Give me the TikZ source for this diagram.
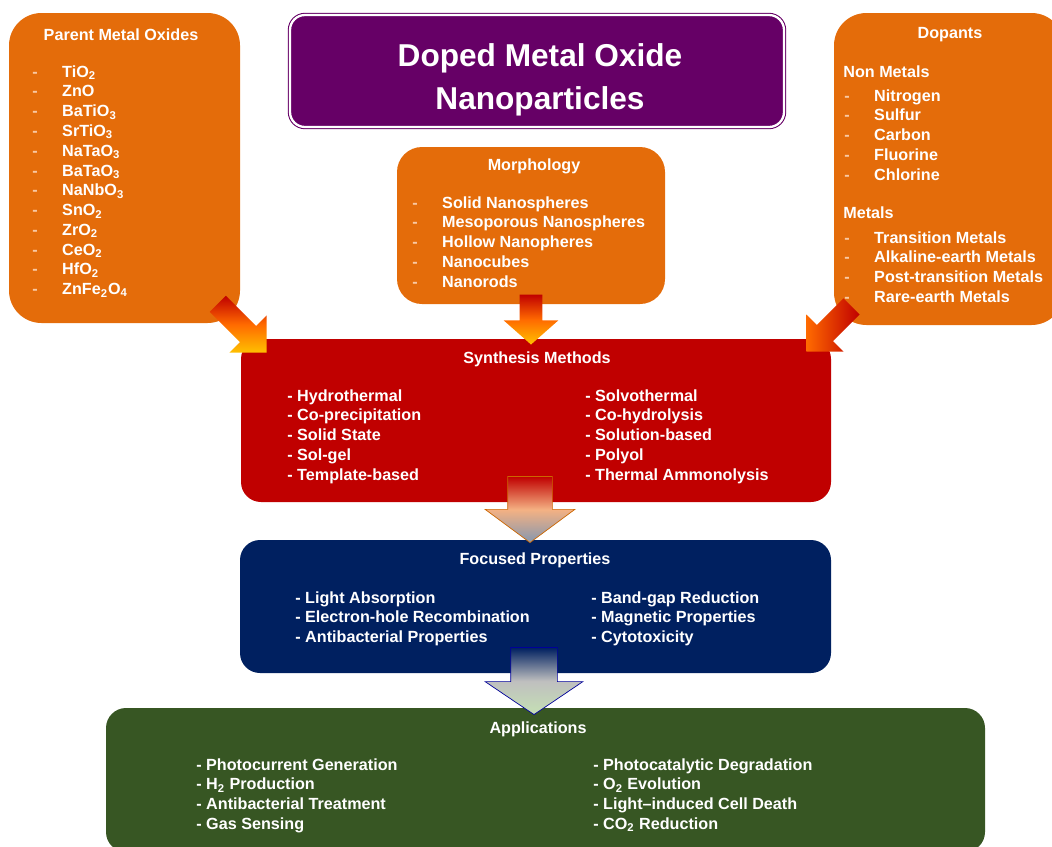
\documentclass[tikz,border=0pt]{standalone}
\usepackage{fontspec}
\setmainfont{Liberation Sans}
\usepackage{xcolor}
\usetikzlibrary{arrows.meta,calc,positioning,fit,shapes.arrows}

\definecolor{oxorange}{HTML}{E46C0A}
\definecolor{synred}{HTML}{C00000}
\definecolor{propnavy}{HTML}{002060}
\definecolor{appgreen}{HTML}{375623}
\definecolor{titlepurple}{HTML}{660066}
\definecolor{dashpeach}{HTML}{F9C9A3}
\definecolor{hotorange}{HTML}{FF6A00}
\definecolor{hotyellow}{HTML}{FFC000}
\definecolor{peach}{HTML}{F4B183}
\definecolor{bluegray}{HTML}{8497B0}
\definecolor{lightgray}{HTML}{BFBFBF}
\definecolor{palegreen}{HTML}{C5E0B4}

\newcommand{\dsh}{{\color{dashpeach}\makebox[17pt][l]{-}}}

\begin{document}
\begin{tikzpicture}[
  x=0.02cm, y=-0.02cm,
  panel/.style={rectangle,inner sep=0pt,rounded corners=#1},
  head/.style={text=white,font=\fontsize{9.2}{11.25}\selectfont\bfseries,inner sep=0pt},
  list/.style={head,align=left,anchor=north west},
  blk/.style={single arrow,inner xsep=0pt,anchor=tip,draw=none},
  hot/.style={blk,top color=synred,bottom color=hotyellow,middle color=hotorange}
]
\path[use as bounding box,clip] (0,0) rectangle (1052,846);

% boxes
\node[panel=0.65cm,fill=oxorange,fit={(9,13) (240,323)}] (pmo) {};
\node[panel=0.3cm,fill=titlepurple,draw=titlepurple,line width=0.6pt,double=white,double distance=1.3pt,fit={(290,15) (784,127)}] (title) {};
\node[panel=0.65cm,fill=oxorange,fit={(834,13) (1064,325)}] (dop) {};
\node[panel=0.5cm,fill=oxorange,fit={(397,147) (665,304)}] (morph) {};
\node[panel=0.4cm,fill=synred,fit={(241,339) (831,502)}] (synth) {};
\node[panel=0.4cm,fill=propnavy,fit={(240,540) (831,673)}] (prop) {};
\node[panel=0.4cm,fill=appgreen,fit={(106,708) (985,852)}] (app) {};

% title
\node[text=white,font=\fontsize{18}{24.5}\selectfont\bfseries,align=center] (ttl) at (540,80) {Doped Metal Oxide\\Nanoparticles};

% parent metal oxides
\node[head] (pmo-h) at (121,35) {Parent Metal Oxides};
\node[list] (pmo-l) at (32,63) {\strut\dsh TiO\textsubscript{2}\\ \dsh ZnO\\ \dsh BaTiO\textsubscript{3}\\ \dsh SrTiO\textsubscript{3}\\
  \dsh NaTaO\textsubscript{3}\\ \dsh BaTaO\textsubscript{3}\\ \dsh NaNbO\textsubscript{3}\\ \dsh SnO\textsubscript{2}\\
  \dsh ZrO\textsubscript{2}\\ \dsh CeO\textsubscript{2}\\ \dsh HfO\textsubscript{2}\\ \dsh ZnFe\textsubscript{2}O\textsubscript{4}};

% dopants
\node[head] (dop-h) at (950,35) {Dopants};
\node[head,anchor=west] (dop-nm) at (843,72) {Non Metals};
\node[list] (dop-nml) at (844,87) {\strut\dsh Nitrogen\\ \dsh Sulfur\\ \dsh Carbon\\ \dsh Fluorine\\ \dsh Chlorine};
\node[head,anchor=west] (dop-m) at (843,213) {Metals};
\node[list] (dop-ml) at (844,229) {\strut\dsh Transition Metals\\ \dsh Alkaline-earth Metals\\ \dsh Post-transition Metals\\ \dsh Rare-earth Metals};

% morphology
\node[head] (morph-h) at (534,166) {Morphology};
\node[list] (morph-l) at (412,194) {\strut\dsh Solid Nanospheres\\ \dsh Mesoporous Nanospheres\\ \dsh Hollow Nanopheres\\ \dsh Nanocubes\\ \dsh Nanorods};

% synthesis methods
\node[head] (synth-h) at (537,359) {Synthesis Methods};
\node[list] (synth-l) at (287,387) {\strut- Hydrothermal\\ - Co-precipitation\\ - Solid State\\ - Sol-gel\\ - Template-based};
\node[list] (synth-r) at (585,387) {\strut- Solvothermal\\ - Co-hydrolysis\\ - Solution-based\\ - Polyol\\ - Thermal Ammonolysis};

% focused properties
\node[head] (prop-h) at (535,560) {Focused Properties};
\node[list] (prop-l) at (295,589) {\strut- Light Absorption\\ - Electron-hole Recombination\\ - Antibacterial Properties};
\node[list] (prop-r) at (591,589) {\strut- Band-gap Reduction\\ - Magnetic Properties\\ - Cytotoxicity};

% applications
\node[head] (app-h) at (538,729) {Applications};
\node[list] (app-l) at (196,756) {\strut- Photocurrent Generation\\ - H\textsubscript{2} Production\\ - Antibacterial Treatment\\ - Gas Sensing};
\node[list] (app-r) at (593,756) {\strut- Photocatalytic Degradation\\ - O\textsubscript{2} Evolution\\ - Light--induced Cell Death\\ - CO\textsubscript{2} Reduction};

% block arrows
\node[hot,minimum height=1.38cm,inner ysep=0.22cm,single arrow head extend=0.3cm,single arrow tip angle=90,rotate=-45] (a-pmo) at (267,353) {};
\node[hot,minimum height=1.0cm,inner ysep=0.22cm,single arrow head extend=0.32cm,single arrow tip angle=97,rotate=-90] (a-morph) at (531,345) {};
\node[blk,left color=hotorange,right color=synred,minimum height=1.28cm,inner ysep=0.22cm,single arrow head extend=0.3cm,single arrow tip angle=90,rotate=-135] (a-dop) at (806,352) {};
\node[blk,draw=orange!80!black,line width=0.4pt,top color=synred,bottom color=bluegray,middle color=peach,
  minimum height=1.32cm,inner ysep=0.44cm,single arrow head extend=0.45cm,single arrow tip angle=107,rotate=-90] (a-synth) at (530,543) {};
\node[blk,draw=blue!60!black,line width=0.4pt,top color=propnavy,bottom color=palegreen,middle color=lightgray,
  minimum height=1.34cm,inner ysep=0.46cm,single arrow head extend=0.51cm,single arrow tip angle=112,rotate=-90] (a-prop) at (534,715) {};
\end{tikzpicture}
\end{document}
